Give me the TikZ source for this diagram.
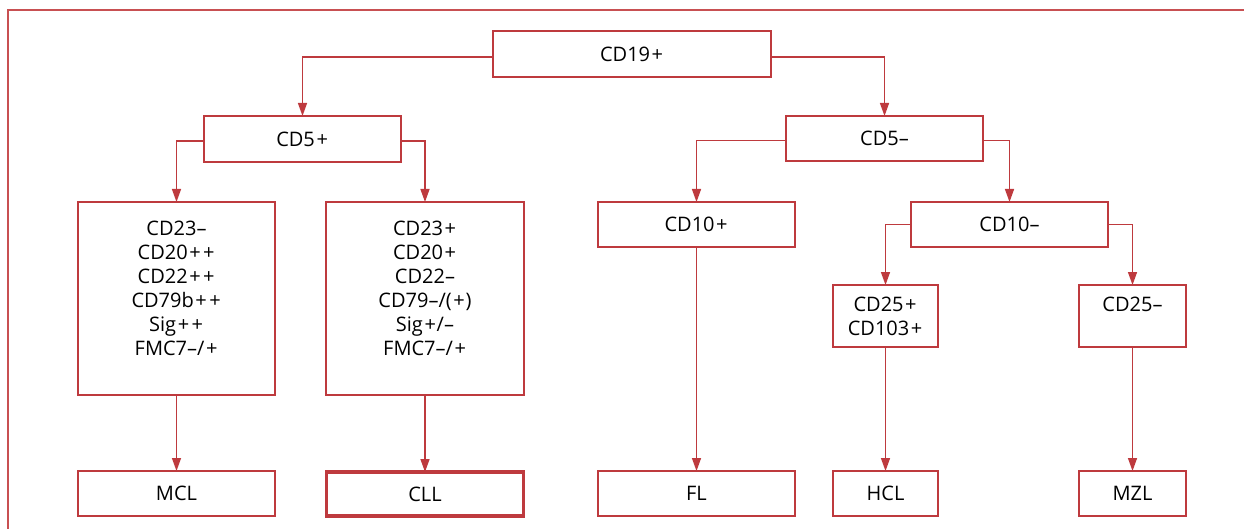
\documentclass[tikz,border=0pt]{standalone}
\usepackage{fontspec}
\setmainfont{Open Sans}
\usetikzlibrary{arrows.meta}
\definecolor{boxred}{RGB}{190,58,62}
\definecolor{framered}{RGB}{200,80,82}
\newcommand{\pls}{\kern1.6pt+\kern0.8pt}
\begin{document}
\begin{tikzpicture}[x=1pt,y=-1pt,
  box/.style={draw=boxred, line width=1.4pt, inner sep=0pt, outer sep=0pt,
    minimum height=45pt, align=center, text=black,
    font=\fontsize{20}{24}\selectfont},
  thickbox/.style={box, line width=3.2pt},
  conn/.style={draw=boxred, line width=1.4pt, -{Triangle[length=13pt,width=9pt]}},
  framestyle/.style={draw=framered, line width=1.1pt}]
\useasboundingbox (0,0) rectangle (1244,529);
\draw[framestyle] (8,529) -- (8,10) -- (1244,10);

% level 1
\node[box, minimum width=278pt, minimum height=46pt] (cd19) at (632,54) {CD19\pls};
% level 2
\node[box, minimum width=197pt, minimum height=46pt] (cd5p) at (302.5,139) {CD5\pls};
\node[box, minimum width=197pt, minimum height=45pt] (cd5m) at (884.5,138.5) {CD5–};
% level 3
\node[box, minimum width=197pt, minimum height=193pt] (boxL) at (176.5,298.5)
  {CD23–\\CD20\pls\pls\\CD22\pls\pls\\CD79b\pls\pls\\Sig\pls\pls\\FMC7–/\pls\\[-4pt]\mbox{}};
\node[box, minimum width=198pt, minimum height=193pt] (boxR) at (425,298.5)
  {CD23\pls\\CD20\pls\\CD22–\\CD79–/(\pls)\\Sig\pls/–\\FMC7–/\pls\\[-4pt]\mbox{}};
\node[box, minimum width=197pt, minimum height=45pt] (cd10p) at (696.5,224.5) {CD10\pls};
\node[box, minimum width=197pt, minimum height=45pt] (cd10m) at (1009.5,224.5) {CD10–};
% level 4
\node[box, minimum width=105pt, minimum height=62pt] (cd25p) at (885.5,316) {CD25\pls\\CD103\pls};
\node[box, minimum width=107pt, minimum height=62pt] (cd25m) at (1132.5,316) {CD25–\\\phantom{CD103+}};
% leaves
\node[box, minimum width=197pt] (mcl) at (176.5,493.5) {MCL};
\node[thickbox, minimum width=197pt, minimum height=44pt] (cll) at (425,494) {CLL};
\node[box, minimum width=197pt] (fl) at (696.5,493.5) {FL};
\node[box, minimum width=105pt] (hcl) at (885.5,493.5) {HCL};
\node[box, minimum width=107pt] (mzl) at (1132.5,493.5) {MZL};

% connectors
\draw[conn] ([yshift=-3pt]cd19.west) -| (cd5p.north);
\draw[conn] ([yshift=-3pt]cd19.east) -| (cd5m.north);
\draw[conn] ([yshift=-2pt]cd5p.west) -| (boxL.north);
\draw[conn] ([yshift=-2pt]cd5p.east) -| (boxR.north);
\draw[conn] ([yshift=-2pt]cd5m.west) -| (cd10p.north);
\draw[conn] ([yshift=-2pt]cd5m.east) -| (cd10m.north);
\draw[conn] (cd10m.west) -| (cd25p.north);
\draw[conn] (cd10m.east) -| (cd25m.north);
\draw[conn] (boxL.south) -- (mcl.north);
\draw[conn] (boxR.south) -- (cll.north);
\draw[conn] (cd10p.south) -- (fl.north);
\draw[conn] (cd25p.south) -- (hcl.north);
\draw[conn] (cd25m.south) -- (mzl.north);
\end{tikzpicture}
\end{document}
